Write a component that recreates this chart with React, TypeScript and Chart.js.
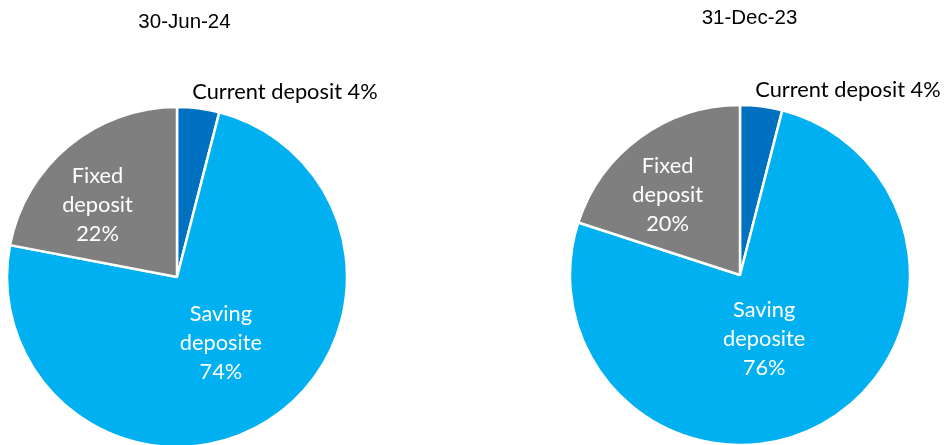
import React, { useEffect, useRef } from "react";
import { Chart, registerables } from "chart.js";

Chart.register(...registerables);

const categories = ["Current deposit", "Saving deposite", "Fixed deposit"];
const titles = ["30-Jun-24", "31-Dec-23"];
const valuesJun24 = [4, 74, 22];
const valuesDec23 = [4, 76, 20];
const colors = ["#0070C0", "#00B0F0", "#7F7F7F"];

const LABEL_FONT = "Lato, 'Noto Sans', sans-serif";
const TITLE_FONT = "'Liberation Sans', Arial, sans-serif";

type PieProps = {
  title: string;
  values: number[];
  left: number;
  width: number;
  padding: { left: number; right: number; top: number; bottom: number };
  titleDx: number;
  titleDy: number;
  innerFactor: number[];
  angleFraction: number[];
};

const labelPlugin = {
  id: "pieLabels",
  afterDraw(chart: any) {
    const ctx = chart.ctx;
    const meta = chart.getDatasetMeta(0);
    const vals: number[] = chart.data.datasets[0].data;
    const t = chart.options.plugins.pieLabels || {};
    ctx.save();
    let cx = 0, cy = 0, R = 0;
    meta.data.forEach((arc: any, i: number) => {
      const p = arc.getProps(["x", "y", "startAngle", "endAngle", "outerRadius"], true);
      cx = p.x; cy = p.y; R = p.outerRadius;
      const ang = p.startAngle + t.angleFraction[i] * (p.endAngle - p.startAngle);
      const name = categories[i];
      const pct = vals[i] + "%";
      ctx.font = "21.8px " + LABEL_FONT;
      ctx.textBaseline = "middle";
      if (i === 0) {
        ctx.fillStyle = "#000000";
        ctx.textAlign = "left";
        ctx.fillText(name + " " + pct, p.x + 0.09 * R, p.y - 1.09 * R);
      } else {
        const r = t.innerFactor[i] * R;
        const lx = p.x + r * Math.cos(ang);
        const ly = p.y + r * Math.sin(ang);
        const lines = [...name.split(" "), pct];
        ctx.fillStyle = "#FFFFFF";
        ctx.textAlign = "center";
        const lh = 29;
        lines.forEach((ln, k) => {
          ctx.fillText(ln, lx, ly + (k - (lines.length - 1) / 2) * lh);
        });
      }
    });
    ctx.font = "20.5px " + TITLE_FONT;
    ctx.fillStyle = "#000000";
    ctx.textAlign = "center";
    ctx.textBaseline = "middle";
    ctx.fillText(t.title || "", cx + (t.titleDx || 0), cy + (t.titleDy || 0));
    ctx.restore();
  },
};

function Pie({ title, values, left, width, padding, titleDx, titleDy, innerFactor, angleFraction }: PieProps) {
  const ref = useRef<HTMLCanvasElement | null>(null);
  useEffect(() => {
    if (!ref.current) return;
    const chart = new Chart(ref.current, {
      type: "pie",
      data: {
        labels: categories,
        datasets: [
          {
            data: values,
            backgroundColor: colors,
            borderColor: "#FFFFFF",
            borderWidth: 2.5,
          },
        ],
      },
      options: {
        responsive: false,
        animation: false,
        radius: 170,
        layout: { padding },
        plugins: {
          legend: { display: false },
          tooltip: { enabled: false },
          title: { display: false },
          pieLabels: { title, titleDx, titleDy, innerFactor, angleFraction },
        } as any,
      } as any,
      plugins: [labelPlugin],
    });
    return () => chart.destroy();
  }, []);
  return (
    <canvas
      ref={ref}
      width={width}
      height={445}
      style={{ position: "absolute", left, top: 0, width, height: 445 }}
    />
  );
}

export default function App() {
  return (
    <div
      style={{
        position: "fixed",
        left: 0,
        top: 0,
        width: 949,
        height: 445,
        background: "#FFFFFF",
        overflow: "hidden",
      }}
    >
      <Pie
        title={titles[0]}
        values={valuesJun24}
        left={0}
        width={474}
        padding={{ left: 0, right: 120, top: 109, bottom: 0 }}
        titleDx={7.5}
        titleDy={-255}
        innerFactor={[0, 0.465, 0.63]}
        angleFraction={[0.5, 0.495, 0.395]}
      />
      <Pie
        title={titles[1]}
        values={valuesDec23}
        left={474}
        width={475}
        padding={{ left: 57, right: 0, top: 105, bottom: 0 }}
        titleDx={9.5}
        titleDy={-257}
        innerFactor={[0, 0.405, 0.635]}
        angleFraction={[0.5, 0.53, 0.415]}
      />
    </div>
  );
}
